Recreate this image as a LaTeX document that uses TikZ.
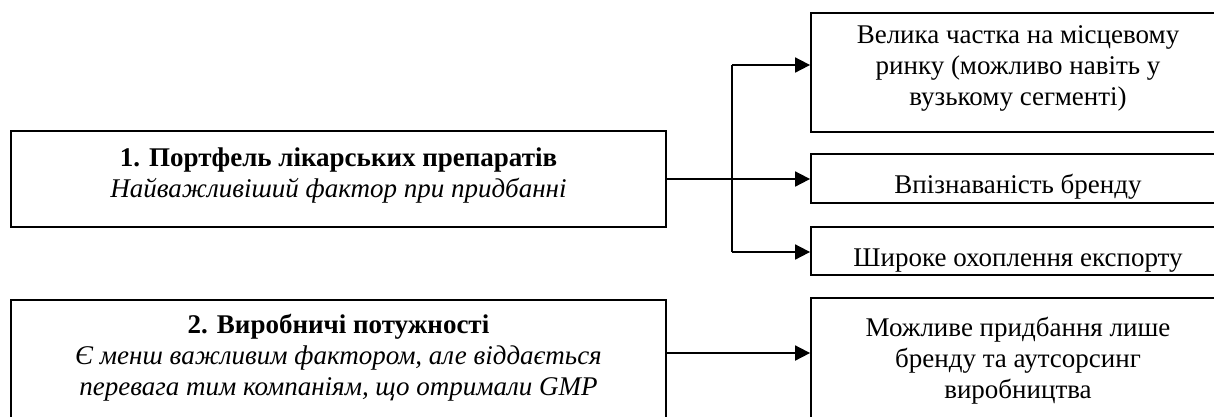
\documentclass[tikz,border=0pt]{standalone}
\usepackage{fontspec}
\setmainfont{Liberation Serif}
\usetikzlibrary{arrows.meta}
\begin{document}
\begin{tikzpicture}[x=1pt,y=-1pt,
  box/.style={draw=black,line width=1.8pt,rectangle,inner sep=0pt},
  txt/.style={anchor=base,inner sep=0pt,font=\fontsize{27}{31}\selectfont},
  ttl/.style={txt,font=\fontsize{27}{31}\selectfont\bfseries},
  itl/.style={txt,font=\fontsize{27}{31}\selectfont\itshape},
  conn/.style={line width=1.8pt},
  arr/.style={conn,-{Triangle[length=15pt,width=15pt]}}]
\clip (0,0) rectangle (1214,416);
\fill[white] (0,0) rectangle (1214,416);
% left boxes
\node[box,minimum width=655pt,minimum height=96pt] (b1) at (338.5,179) {};
\node[box,minimum width=655pt,minimum height=140pt] (b2) at (338.5,370) {};
% right boxes
\node[box,minimum width=414pt,minimum height=119pt] (bA) at (1018,72.5) {};
\node[box,minimum width=414pt,minimum height=49pt] (bB) at (1018,178.5) {};
\node[box,minimum width=414pt,minimum height=48pt] (bC) at (1018,251) {};
\node[box,minimum width=414pt,minimum height=140pt] (bD) at (1018,368) {};
% texts
\node[ttl] (t1a) at (338.5,166) {1. Портфель лікарських препаратів};
\node[itl] (t1b) at (338.5,197) {Найважливіший фактор при придбанні};
\node[ttl] (t2a) at (338.5,333) {2. Виробничі потужності};
\node[itl] (t2b) at (338.5,364) {Є менш важливим фактором, але віддається};
\node[itl] (t2c) at (338.5,395) {перевага тим компаніям, що отримали GMP};
\node[txt] (tAa) at (1018,43) {Велика частка на місцевому};
\node[txt] (tAb) at (1018,74) {ринку (можливо навіть у};
\node[txt] (tAc) at (1018,105) {вузькому сегменті)};
\node[txt] (tB) at (1018,193) {Впізнаваність бренду};
\node[txt] (tC) at (1018,266) {Широке охоплення експорту};
\node[txt] (tDa) at (1018,336) {Можливе придбання лише};
\node[txt] (tDb) at (1018,367) {бренду та аутсорсинг};
\node[txt] (tDc) at (1018,398) {виробництва};
% connectors
\coordinate (s1) at (b1.east);
\coordinate (jT) at (732,65);
\coordinate (jB) at (732,252);
\coordinate (s2) at (666,353);
\draw[arr] (s1) -- (s1 -| bB.west);
\draw[conn] (jT) -- (jB);
\draw[arr] (jT) -- (jT -| bA.west);
\draw[arr] (jB) -- (jB -| bC.west);
\draw[arr] (s2) -- (s2 -| bD.west);
\end{tikzpicture}
\end{document}
